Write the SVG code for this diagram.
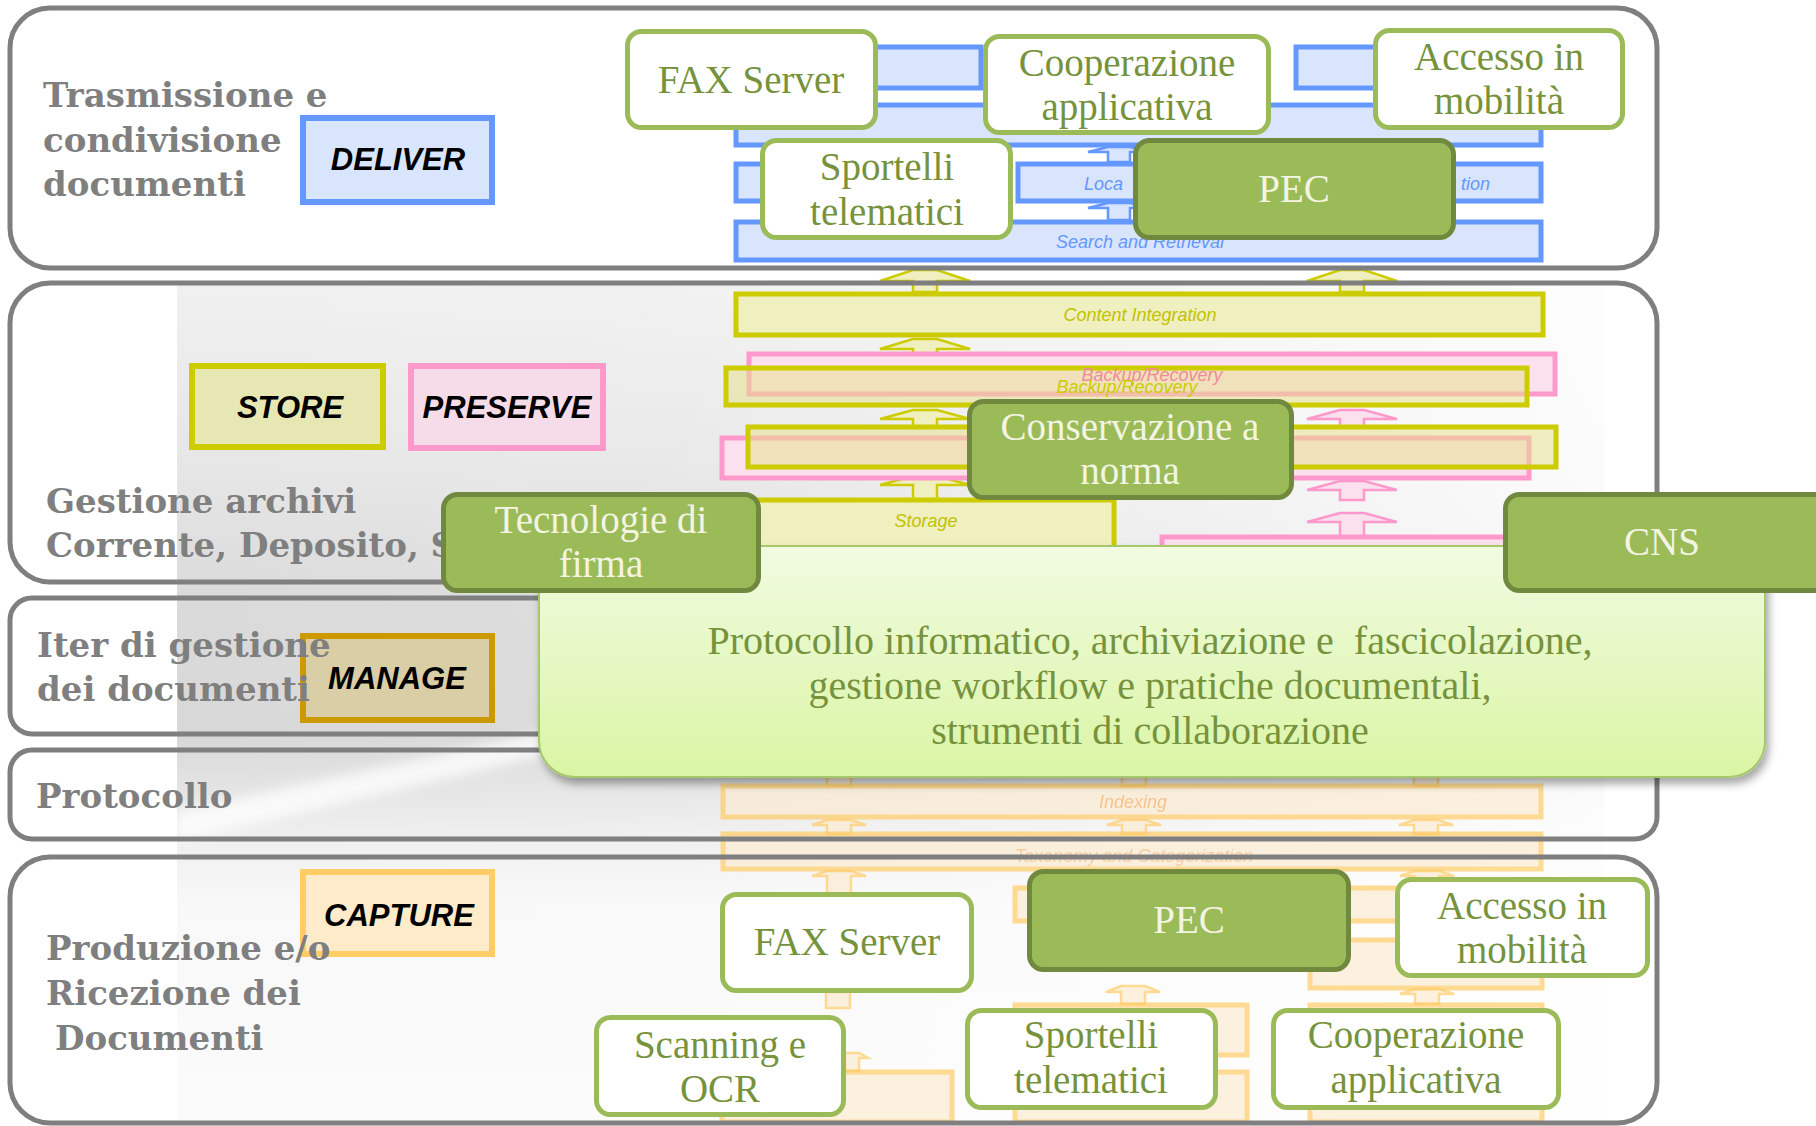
<svg xmlns="http://www.w3.org/2000/svg" width="1816" height="1126" viewBox="0 0 1816 1126">
<defs>
<style>
.pn{fill:none;stroke:#7f7f7f;stroke-width:5}
.lbl{font-family:"DejaVu Serif","Liberation Serif",serif;font-weight:bold;font-size:34px;fill:#7f7f7f}
.cattx{font-family:"Liberation Sans",Arial,sans-serif;font-weight:bold;font-style:italic;font-size:31px;fill:#000;text-anchor:middle}
.nw{fill:#fff;stroke:#9bbb59;stroke-width:5}
.nf{fill:#9bbb59;stroke:#71893f;stroke-width:5}
.tw{font-family:"Liberation Serif","Times New Roman",serif;font-size:39px;fill:#76923c;text-anchor:middle}
.tb{font-family:"Liberation Serif","Times New Roman",serif;font-size:40px;fill:#76923c;text-anchor:middle}
.tf{font-family:"Liberation Serif","Times New Roman",serif;font-size:39px;fill:#f4f4e2;text-anchor:middle}
.et{font-family:"Liberation Sans",Arial,sans-serif;font-style:italic;font-size:18px;text-anchor:middle}
.bl{fill:#d9e5fc;stroke:#6497ff;stroke-width:5}
.ye{fill:#efefbf;stroke:#cccc00;stroke-width:5}
.yt{fill:#e6e288;fill-opacity:0.5;stroke:#cccc00;stroke-width:5}
.pk{fill:#fbe1ee;stroke:#ff99cc;stroke-width:5}
.or{fill:#fcebd2;stroke:#ffcc66;stroke-width:5;opacity:0.7}
.ya{fill:#efefbf;stroke:#cccc00;stroke-width:2.5}
.pa{fill:#fbe1ee;stroke:#ff99cc;stroke-width:2.5}
.ba{fill:#d9e5fc;stroke:#6497ff;stroke-width:2.5}
.oa{fill:#fcebd2;stroke:#ffcc66;stroke-width:2.5;opacity:0.7}
</style>
<linearGradient id="bdv" x1="0" y1="285" x2="0" y2="1123" gradientUnits="userSpaceOnUse">
<stop offset="0" stop-color="#f0f0f0"/>
<stop offset="0.22" stop-color="#e6e6e6"/>
<stop offset="0.38" stop-color="#dadada"/>
<stop offset="0.54" stop-color="#d8d8d8"/>
<stop offset="0.66" stop-color="#efefef"/>
<stop offset="0.74" stop-color="#f8f8f8"/>
<stop offset="1" stop-color="#fbfbfb"/>
</linearGradient>
<linearGradient id="bdh" x1="177" y1="0" x2="1604" y2="0" gradientUnits="userSpaceOnUse">
<stop offset="0" stop-color="#fff" stop-opacity="0"/>
<stop offset="0.35" stop-color="#fff" stop-opacity="0.1"/>
<stop offset="0.75" stop-color="#fff" stop-opacity="0.55"/>
<stop offset="1" stop-color="#fff" stop-opacity="0.85"/>
</linearGradient>
<linearGradient id="gbox" x1="0" y1="0" x2="0" y2="1">
<stop offset="0" stop-color="#f1fbe1"/>
<stop offset="1" stop-color="#daf5a4"/>
</linearGradient>
<filter id="sh" x="-5%" y="-10%" width="110%" height="125%">
<feDropShadow dx="3" dy="6" stdDeviation="4" flood-color="#000" flood-opacity="0.35"/>
</filter>
<filter id="blur" x="-20%" y="-50%" width="140%" height="200%">
<feGaussianBlur stdDeviation="6"/>
</filter>
</defs>

<rect width="1816" height="1126" fill="#fff"/>

<g id="backdrop">
<rect x="177" y="285" width="1427" height="838" fill="url(#bdv)"/>
<rect x="177" y="285" width="1427" height="838" fill="url(#bdh)"/>
<polygon points="560,728 177,812 177,842 560,752" fill="#fff" opacity="0.75" filter="url(#blur)"/>
</g>

<g id="ecm-deliver">
<rect class="bl" x="850" y="47" width="131" height="41"/>
<rect class="bl" x="1296" y="47" width="124" height="41"/>
<path class="ba" d="M1108 147H1130L1150 152H1130V162H1108V152H1088Z"/>
<path class="ba" d="M1108 203H1130L1150 208H1130V220H1108V208H1088Z"/>
<rect class="bl" x="736" y="105" width="805" height="40"/>
<rect class="bl" x="736" y="164" width="270" height="37"/>
<rect class="bl" x="1018" y="164" width="523" height="37"/>
<text class="et" x="1084" y="190" fill="#6497ff" style="text-anchor:start">Loca</text>
<text class="et" x="1490" y="190" fill="#6497ff" style="text-anchor:end">tion</text>
<rect class="bl" x="736" y="222" width="805" height="38"/>
<text class="et" x="1140" y="248" fill="#6497ff" font-size="19">Search and Retrieval</text>
</g>

<g id="ecm-store">
<path class="ya" d="M913 270H937L970 281H937V292H913V281H880Z"/>
<path class="ya" d="M1340 270H1364L1397 281H1364V292H1340V281H1307Z"/>
<path class="ya" d="M913 339H937L970 349H937V366H913V349H880Z"/>
<path class="ya" d="M913 410H937L970 419H937V427H913V419H880Z"/>
<path class="pa" d="M1340 410H1364L1397 419H1364V427H1340V419H1307Z"/>
<path class="ya" d="M913 476H937L970 485H937V500H913V485H880Z"/>
<path class="pa" d="M1340 481H1364L1397 490H1364V500H1340V490H1307Z"/>
<path class="pa" d="M1340 513H1364L1397 522H1364V537H1340V522H1307Z"/>
<rect class="ye" x="736" y="294" width="807" height="41"/>
<text class="et" x="1140" y="321" fill="#c2c200">Content Integration</text>
<rect class="pk" x="749" y="354" width="806" height="40"/>
<rect class="yt" x="726" y="368" width="801" height="37"/>
<text class="et" x="1152" y="381" fill="#f08a9a">Backup/Recovery</text>
<text class="et" x="1127" y="393" fill="#cccc00">Backup/Recovery</text>
<rect class="pk" x="722" y="438" width="807" height="40"/>
<rect class="yt" x="748" y="427" width="808" height="40"/>
<rect class="ye" x="736" y="500" width="378" height="60"/>
<text class="et" x="926" y="527" fill="#c2c200">Storage</text>
<rect class="pk" x="1162" y="537" width="400" height="30"/>
</g>

<g id="ecm-capture">
<rect class="oa" x="827" y="776" width="24" height="10"/>
<rect class="oa" x="1122" y="776" width="24" height="10"/>
<rect class="oa" x="1414" y="776" width="24" height="10"/>
<path class="oa" d="M827 820H851L866 825H851V834H827V825H812Z"/>
<path class="oa" d="M1122 820H1146L1161 825H1146V834H1122V825H1107Z"/>
<path class="oa" d="M1414 820H1438L1453 825H1438V834H1414V825H1399Z"/>
<path class="oa" d="M827 871H851L866 876H851V894H827V876H812Z"/>
<path class="oa" d="M1415 871H1439L1454 876H1439V888H1415V876H1400Z"/>
<rect class="oa" x="826" y="992" width="24" height="16"/>
<path class="oa" d="M1121 986H1145L1160 992H1145V1004H1121V992H1106Z"/>
<path class="oa" d="M1415 989H1439L1454 994H1439V1004H1415V994H1400Z"/>
<path class="oa" d="M845 1053H859L868 1058H859V1071H845V1058H836Z"/>
<rect class="or" x="723" y="786" width="818" height="31"/>
<text class="et" x="1133" y="808" fill="#f5b87a" opacity="0.8">Indexing</text>
<rect class="or" x="723" y="834" width="818" height="35"/>
<text class="et" x="1134" y="862" fill="#f5c08a" opacity="0.7">Taxonomy and Categorization</text>
<rect class="or" x="1015" y="888" width="385" height="33"/>
<rect class="or" x="1310" y="940" width="232" height="48"/>
<rect class="or" x="1015" y="1005" width="232" height="50"/>
<rect class="or" x="1310" y="1005" width="232" height="50"/>
<rect class="or" x="722" y="1072" width="230" height="50"/>
<rect class="or" x="1015" y="1072" width="232" height="50"/>
<rect class="or" x="1310" y="1072" width="232" height="50"/>
</g>

<g id="panels">
<rect class="pn" x="10" y="8" width="1647" height="260" rx="40"/>
<rect class="pn" x="10" y="283" width="1647" height="299" rx="40"/>
<rect class="pn" x="10" y="598" width="1647" height="136" rx="22"/>
<rect class="pn" x="10" y="750" width="1647" height="89" rx="22"/>
<rect class="pn" x="10" y="857" width="1647" height="266" rx="40"/>
</g>

<g id="categories">
<g id="deliver"><rect x="303" y="118" width="189" height="84" fill="#d9e5fc" stroke="#6497ff" stroke-width="6"/><text class="cattx" x="398" y="170">DELIVER</text></g>
<g id="store"><rect x="192" y="366" width="191" height="81" fill="#e7e7b3" stroke="#cccc00" stroke-width="6"/><text class="cattx" x="290" y="418">STORE</text></g>
<g id="preserve"><rect x="411" y="366" width="192" height="82" fill="#f6dbe8" stroke="#ff99cc" stroke-width="6"/><text class="cattx" x="507" y="418">PRESERVE</text></g>
<g id="manage"><rect x="303" y="636" width="189" height="84" fill="#dacea6" stroke="#cc9900" stroke-width="6"/><text class="cattx" x="397" y="689">MANAGE</text></g>
<g id="capture"><rect x="303" y="872" width="189" height="82" fill="#fdebc9" stroke="#ffcc66" stroke-width="6"/><text class="cattx" x="399" y="926">CAPTURE</text></g>
</g>

<g id="layer-labels">
<text class="lbl" x="43" y="107">Trasmissione e</text>
<text class="lbl" x="43" y="152">condivisione</text>
<text class="lbl" x="43" y="196">documenti</text>
<text class="lbl" x="46" y="513">Gestione archivi</text>
<text class="lbl" x="46" y="557">Corrente, Deposito, S</text>
<text class="lbl" x="37" y="657">Iter di gestione</text>
<text class="lbl" x="37" y="701">dei documenti</text>
<text class="lbl" x="36" y="808">Protocollo</text>
<text class="lbl" x="46" y="960">Produzione e/o</text>
<text class="lbl" x="46" y="1005">Ricezione dei</text>
<text class="lbl" x="55" y="1050">Documenti</text>
</g>

<g id="protocollo-box">
<rect x="539" y="546" width="1226" height="231" rx="36" fill="url(#gbox)" stroke="#a6c86a" stroke-width="2" filter="url(#sh)"/>
<text class="tb" x="1150" y="654" style="white-space:pre">Protocollo informatico, archiviazione e  fascicolazione,</text>
<text class="tb" x="1150" y="699">gestione workflow e pratiche documentali,</text>
<text class="tb" x="1150" y="744">strumenti di collaborazione</text>
</g>

<g id="fax-top"><rect class="nw" x="627.5" y="31.5" width="248" height="96" rx="14"/><text class="tw" x="751" y="93">FAX Server</text></g>
<g id="coop-top"><rect class="nw" x="985.5" y="36.5" width="283" height="96" rx="14"/><text class="tw" x="1127" y="76">Cooperazione</text><text class="tw" x="1127" y="120">applicativa</text></g>
<g id="accesso-top"><rect class="nw" x="1375.5" y="30.5" width="247" height="97" rx="14"/><text class="tw" x="1499" y="70">Accesso in</text><text class="tw" x="1499" y="114">mobilità</text></g>
<g id="sportelli-top"><rect class="nw" x="762.5" y="140.5" width="248" height="97" rx="14"/><text class="tw" x="887" y="180">Sportelli</text><text class="tw" x="887" y="225">telematici</text></g>
<g id="pec-top"><rect class="nf" x="1135.5" y="140.5" width="318" height="97" rx="14"/><text class="tf" x="1294" y="202">PEC</text></g>
<g id="conservazione"><rect class="nf" x="969.5" y="401.5" width="322" height="96" rx="14"/><text class="tf" x="1130" y="440">Conservazione a</text><text class="tf" x="1130" y="484">norma</text></g>
<g id="tecnologie"><rect class="nf" x="443.5" y="494.5" width="315" height="96" rx="14"/><text class="tf" x="601" y="533">Tecnologie di</text><text class="tf" x="601" y="577">firma</text></g>
<g id="cns"><rect class="nf" x="1505.5" y="494.5" width="330" height="96" rx="14"/><text class="tf" x="1662" y="555">CNS</text></g>
<g id="pec-bottom"><rect class="nf" x="1029.5" y="871.5" width="319" height="98" rx="14"/><text class="tf" x="1189" y="933">PEC</text></g>
<g id="fax-bottom"><rect class="nw" x="722.5" y="894.5" width="249" height="96" rx="14"/><text class="tw" x="847" y="955">FAX Server</text></g>
<g id="accesso-bottom"><rect class="nw" x="1397.5" y="879.5" width="250" height="96" rx="14"/><text class="tw" x="1522" y="919">Accesso in</text><text class="tw" x="1522" y="963">mobilità</text></g>
<g id="scanning"><rect class="nw" x="596.5" y="1017.5" width="247" height="97" rx="14"/><text class="tw" x="720" y="1058">Scanning e</text><text class="tw" x="720" y="1102">OCR</text></g>
<g id="sportelli-bottom"><rect class="nw" x="967.5" y="1010.5" width="248" height="97" rx="14"/><text class="tw" x="1091" y="1048">Sportelli</text><text class="tw" x="1091" y="1093">telematici</text></g>
<g id="coop-bottom"><rect class="nw" x="1273.5" y="1010.5" width="285" height="97" rx="14"/><text class="tw" x="1416" y="1048">Cooperazione</text><text class="tw" x="1416" y="1093">applicativa</text></g>
</svg>
